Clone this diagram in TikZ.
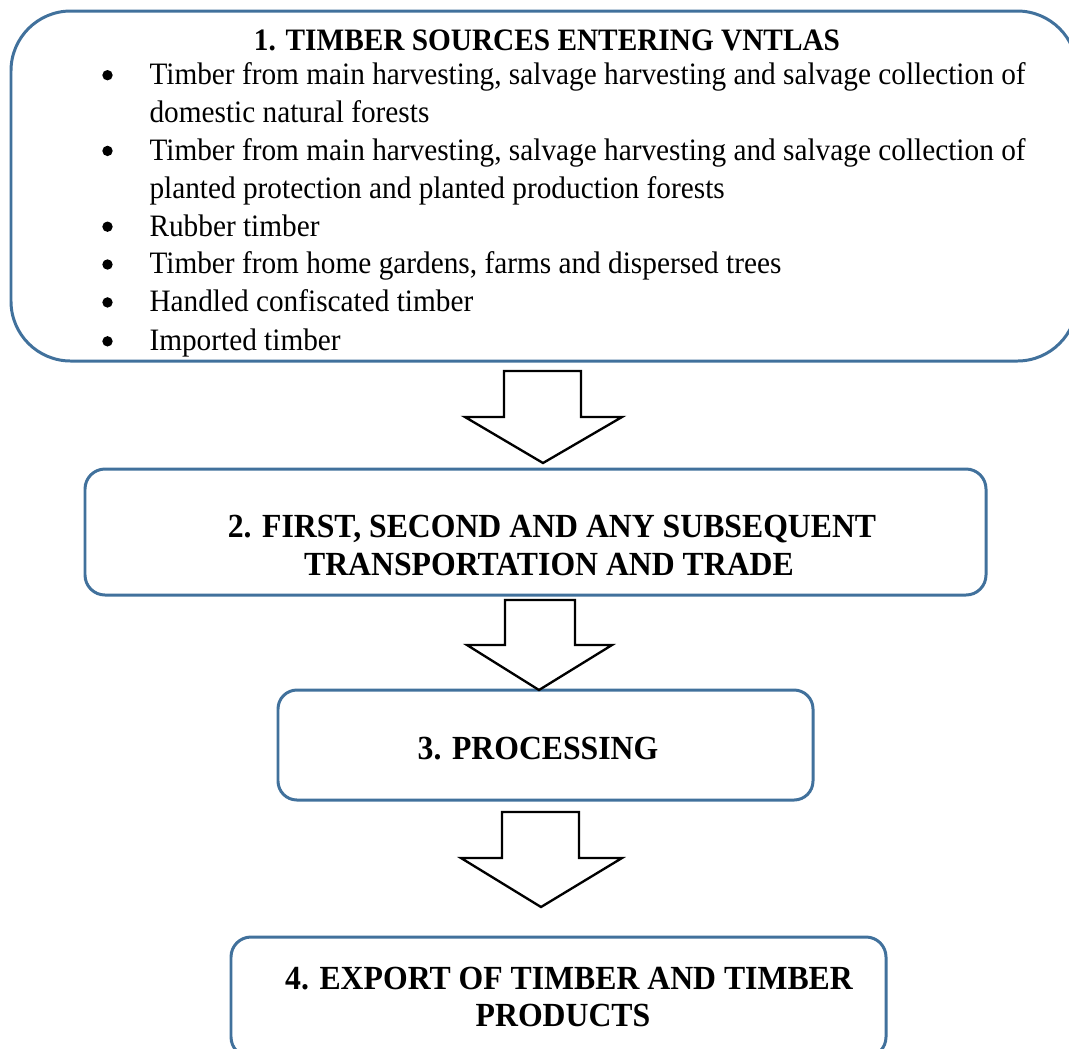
\documentclass[tikz,border=0pt]{standalone}
\usepackage{fontspec}
\setmainfont[FakeStretch=0.94]{Liberation Serif}
\definecolor{boxblue}{HTML}{41719C}
\begin{document}
\begin{tikzpicture}[x=0.385pt,y=-0.385pt,
  panel/.style={draw=boxblue, line width=1.15pt, fill=white, inner sep=0pt},
  blockarrow/.style={draw=black, line width=0.9pt, fill=white, line join=miter},
  bodytext/.style={inner sep=0pt, anchor=base west, font=\fontsize{12}{14.5}\selectfont},
  bulletmark/.style={circle, fill=black, inner sep=0pt, minimum size=4pt},
  heading/.style={inner sep=0pt, anchor=base, font=\fontsize{13}{15}\selectfont\bfseries}]
\useasboundingbox (0,0) rectangle (1069,1048);

% stage boxes
\node[panel, rounded corners=23pt, minimum width=1066*0.385pt, minimum height=350*0.385pt] (b1) at (544,186) {};
\node[panel, rounded corners=7.7pt, minimum width=901*0.385pt, minimum height=126*0.385pt] (b2) at (535.5,532) {};
\node[panel, rounded corners=7.3pt, minimum width=535*0.385pt, minimum height=110*0.385pt] (b3) at (545.5,745) {};
\node[panel, rounded corners=7.7pt, minimum width=655*0.385pt, minimum height=120*0.385pt] (b4) at (558.5,997) {};

% hollow block arrows between the stages
\draw[blockarrow] (504,371) -- (581,371) -- (581,417) -- (622,417) -- (543,463) -- (465,417) -- (504,417) -- cycle;
\draw[blockarrow] (505,600) -- (575,600) -- (575,645) -- (612,645) -- (539,690) -- (467,645) -- (505,645) -- cycle;
\draw[blockarrow] (502,812) -- (579,812) -- (579,858) -- (622,858) -- (541,907) -- (461,858) -- (502,858) -- cycle;

% stage 1: heading and list of sources
\node[heading, font=\fontsize{12}{14.5}\selectfont\bfseries] (h1) at (547,50) {1. TIMBER SOURCES ENTERING VNTLAS};
\node[bulletmark] (m1) at (107.5,75.2) {};
\node[bodytext] (t1a) at (149,84.5) {Timber from main harvesting, salvage harvesting and salvage collection of};
\node[bodytext] (t1b) at (149,122.4) {domestic natural forests};
\node[bulletmark] (m2) at (107.5,150.9) {};
\node[bodytext] (t2a) at (149,160.2) {Timber from main harvesting, salvage harvesting and salvage collection of};
\node[bodytext] (t2b) at (149,198.1) {planted protection and planted production forests};
\node[bulletmark] (m3) at (107.5,226.7) {};
\node[bodytext] (t3) at (149,236) {Rubber timber};
\node[bulletmark] (m4) at (107.5,264.5) {};
\node[bodytext] (t4) at (149,273.8) {Timber from home gardens, farms and dispersed trees};
\node[bulletmark] (m5) at (107.5,302.4) {};
\node[bodytext] (t5) at (149,311.7) {Handled confiscated timber};
\node[bulletmark] (m6) at (107.5,341.3) {};
\node[bodytext] (t6) at (149,350.6) {Imported timber};

% stage 2
\node[heading] (h2a) at (552,537) {2. FIRST, SECOND AND ANY SUBSEQUENT};
\node[heading] (h2b) at (549,575) {TRANSPORTATION AND TRADE};

% stage 3
\node[heading] (h3) at (538,759) {3. PROCESSING};

% stage 4
\node[heading] (h4a) at (569,989) {4. EXPORT OF TIMBER AND TIMBER};
\node[heading] (h4b) at (563,1026) {PRODUCTS};
\end{tikzpicture}
\end{document}
